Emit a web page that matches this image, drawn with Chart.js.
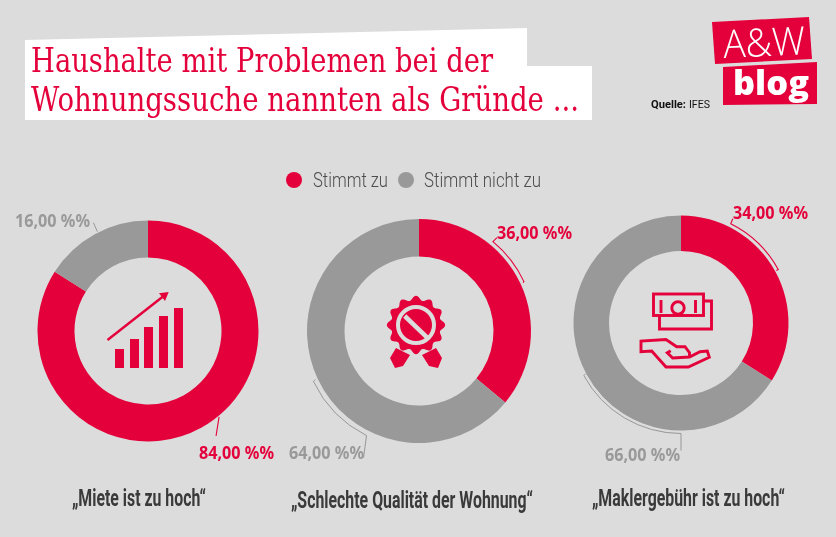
<!DOCTYPE html>
<html lang="de"><head><meta charset="utf-8">
<script src="https://cdn.jsdelivr.net/npm/chart.js@4"></script>
<style>
html,body{margin:0;padding:0;background:#dcdcdc;overflow:hidden}
#page{position:relative;width:836px;height:537px;background:#dcdcdc;overflow:hidden}
#art{position:absolute;left:0;top:0}
canvas{position:absolute}
.t{position:absolute;white-space:nowrap;transform-origin:0 50%;line-height:1}
</style></head><body><div id="page">
<svg id="art" width="836" height="537" xmlns="http://www.w3.org/2000/svg">
<polygon points="25,40 527,28 527,66 592,66 592,120 25,120" fill="#fff"/>
<polygon points="712,22 809,17 812,59 715,64" fill="#e4003a"/>
<polygon points="723,67 817,62 817,104 723,105" fill="#e4003a"/>
<g fill="#e4003a">
<rect x="115" y="349" width="9" height="19"/><rect x="130" y="339" width="9" height="29"/>
<rect x="144" y="327" width="9" height="41"/><rect x="159" y="316" width="9" height="52"/>
<rect x="174" y="308" width="9" height="60"/>
<polygon points="168.7,292 159,293.3 165,301"/>
<polygon id="rosette" points=""/>
<polygon points="396,348 410,355 403,366 395,368 390,358"/>
<polygon points="436,348 422,355 429,366 438,368 442,358"/>
</g>
<line x1="107.5" y1="340" x2="163" y2="296.5" stroke="#e4003a" stroke-width="2.4"/>
<circle cx="416" cy="325" r="18" fill="none" stroke="#dcdcdc" stroke-width="4"/>
<line x1="404.7" y1="316" x2="427" y2="337.3" stroke="#dcdcdc" stroke-width="4.5"/>
<g fill="none" stroke="#e4003a" stroke-width="2.9">
<rect x="653.5" y="294" width="50" height="21.5"/>
<polyline points="703.5,301 711.5,301 711.5,329 659.5,329 659.5,315.5"/>
<circle cx="678" cy="308" r="6.2"/>
<line x1="661" y1="300" x2="661" y2="313"/><line x1="695.5" y1="300" x2="695.5" y2="313"/>
<polyline points="689.5,357 689.5,352.7 685,346.7 676.7,346.7 666,339.5 641,341 641,351.7 651.7,351 666,367 688.3,367 709.3,357.3 707.3,351 700,351.7 689.5,357 672.7,358 667.3,352.7 670.7,350.7"/>
</g>
</svg>
<div id="labels"></div>
</div>
<script>
const categories = ["Stimmt zu", "Stimmt nicht zu"];
const miete = [84, 16];
const qualitaet = [36, 64];
const makler = [34, 66];
const captions = ["„Miete ist zu hoch“", "„Schlechte Qualität der Wohnung“", "„Maklergebühr ist zu hoch“"];
const valueLabels = [["84,00 %%", "16,00 %%"], ["36,00 %%", "64,00 %%"], ["34,00 %%", "66,00 %%"]];
const RED = "#e4003a", GREY = "#999999";

const page = document.getElementById("page");
const pts = [];
for (let i = 0; i < 180; i++) {
  const a = i / 180 * 2 * Math.PI, r = 27 + 2.2 * Math.cos(12 * a);
  pts.push((416 + r * Math.sin(a)).toFixed(1) + "," + (325 - r * Math.cos(a)).toFixed(1));
}
document.getElementById("rosette").setAttribute("points", pts.join(" "));

/* leader lines follow each slice's outer edge, read from the library's arc element */
const leaderPlugin = {
  id: "leaders",
  afterDatasetsDraw(chart, args, opts) {
    const ctx = chart.ctx, arcs = chart.getDatasetMeta(0).data;
    (opts.items || []).forEach(l => {
      const arc = arcs[l.slice], R = arc.outerRadius + l.gap;
      const p = f => {
        const a = -Math.PI / 2 + f * 2 * Math.PI;
        return [arc.x + R * Math.cos(a), arc.y + R * Math.sin(a)];
      };
      ctx.save();
      ctx.strokeStyle = l.slice === 0 ? RED : "#8f8f8f";
      ctx.lineWidth = l.slice === 0 ? 1.1 : 0.9;
      ctx.beginPath();
      const s = p(l.from), e = p(l.to);
      if (l.head) ctx.moveTo(s[0] + l.head[0], s[1] + l.head[1]); else ctx.moveTo(s[0], s[1]);
      if (l.head) ctx.lineTo(s[0], s[1]);
      const a0 = -Math.PI / 2 + l.from * 2 * Math.PI, a1 = -Math.PI / 2 + l.to * 2 * Math.PI;
      ctx.arc(arc.x, arc.y, R, a0, a1, a1 < a0);
      ctx.lineTo(e[0] + l.tail[0], e[1] + l.tail[1]);
      ctx.stroke();
      ctx.restore();
    });
  }
};

function donut(values, cx, cy, R, inner, leaders) {
  const half = 135;
  const c = document.createElement("canvas");
  const box = document.createElement("div");
  box.style.cssText = `position:absolute;left:${cx-half}px;top:${cy-half}px;width:${2*half}px;height:${2*half}px`;
  box.appendChild(c); page.insertBefore(box, document.getElementById("art"));
  new Chart(c, {
    type: "doughnut",
    plugins: [leaderPlugin],
    data: { labels: categories, datasets: [{ data: values, backgroundColor: [RED, GREY], borderWidth: 0 }] },
    options: {
      responsive: true, maintainAspectRatio: false, animation: false,
      cutout: inner, layout: { padding: half - R },
      plugins: { legend: { display: false }, tooltip: { enabled: false }, leaders: { items: leaders } }
    }
  });
}

donut(miete, 148, 330.5, 110.5, 73.5, [
  { slice: 0, from: 0.39, to: 0.39, gap: 1, tail: [-3, 19] },
  { slice: 1, from: 0.925, to: 0.925, gap: 1, tail: [-4, -9] }
]);
donut(qualitaet, 419, 331, 112, 74.5, [
  { slice: 0, from: 0.110, to: 0.180, gap: 4, head: [4, -4], tail: [-1, 1] },
  { slice: 1, from: 0.679, to: 0.574, gap: 5, head: [2, -2], tail: [-3, 22] }
]);
donut(makler, 681, 323, 107.5, 72, [
  { slice: 0, from: 0.074, to: 0.170, gap: 3.5, head: [2, -5], tail: [-2, 1] },
  { slice: 1, from: 0.671, to: 0.5, gap: 3, head: [2, -2], tail: [0, 17] }
]);

/* text helper: place on the left edge, then fit to the reference's width */
function text(str, x, w, cy, font, color, size, weight, rot) {
  const s = document.createElement("span");
  s.className = "t"; s.textContent = str;
  s.style.cssText = `left:${x}px;top:${cy-size/2}px;font-family:${font};font-size:${size}px;font-weight:${weight||400};color:${color}`;
  page.appendChild(s);
  const k = w / s.getBoundingClientRect().width;
  s.style.transform = (rot ? `rotate(${rot}deg) ` : "") + `scaleX(${k})`;
}
const SERIF = "'DejaVu Serif'", SANS = "'Noto Sans'", NARROW = "Roboto";

text("Haushalte mit Problemen bei der", 31, 462, 60, SERIF, RED, 33);
text("Wohnungssuche nannten als Gründe ...", 31, 548, 99, SERIF, RED, 33);
text("Quelle:", 651, 35, 104, NARROW, "#111", 11, 700);
text("IFES", 689, 21, 104, NARROW, "#111", 11, 400);
text("A&W", 723, 82, 42, "'Open Sans'", "#fff", 39, 300, -2.5);
text("blog", 733, 76, 82, "'Open Sans'", "#fff", 33, 800);

/* legend */
const legendX = [[294, 313, 75], [406, 424, 117]];
categories.forEach((name, i) => {
  const d = document.createElement("div");
  d.style.cssText = `position:absolute;left:${legendX[i][0]-8}px;top:172px;width:16px;height:16px;border-radius:50%;background:${[RED, GREY][i]}`;
  page.appendChild(d);
  text(name, legendX[i][1], legendX[i][2], 180, NARROW, "#4d4d4d", 20, 300);
});

/* value labels */
const labelPos = [[[199, 452], [15, 220]], [[497, 232], [289, 452]], [[733, 212], [605, 454]]];
valueLabels.forEach((pair, c) => pair.forEach((v, i) => {
  text(v, labelPos[c][i][0], 75, labelPos[c][i][1], SANS, i === 0 ? RED : GREY, 18, 700);
}));

/* captions */
const capPos = [[72, 134, 498], [291, 242, 500], [592, 193, 498]];
captions.forEach((cap, i) => text(cap, capPos[i][0], capPos[i][1], capPos[i][2], NARROW, "#3a3a3a", 23, 700));
</script>
</body></html>
